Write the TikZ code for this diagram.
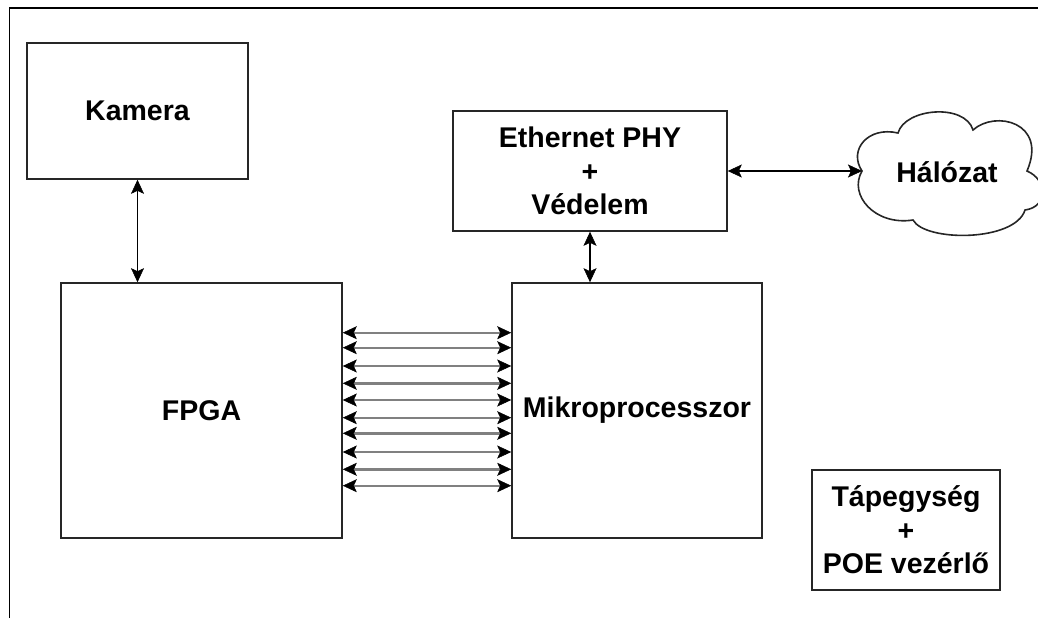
\documentclass[tikz,border=0pt]{standalone}
\usepackage{fontspec}
\setmainfont{Liberation Sans}
\usetikzlibrary{arrows.meta}
\begin{document}
\begin{tikzpicture}[x=1pt,y=-1pt,
  tipA/.tip={Stealth[length=14pt,width=13pt,inset=3pt,color=black,fill=black,line width=0.5pt]},
  box/.style={draw=black!85, line width=1.6pt, rectangle, inner sep=0pt, align=center,
    font=\fontsize{28.5}{33.5}\selectfont\bfseries},
  lbl/.style={inner sep=0pt, align=center, font=\fontsize{28.5}{33.5}\selectfont\bfseries},
  link/.style={line width=1.6pt, draw=black, arrows={tipA-tipA}},
  bus/.style={line width=2.4pt, draw=black!50, arrows={tipA-tipA}},
  frameline/.style={line width=1.6pt, draw=black}]
\useasboundingbox (0,0) rectangle (1038,618);
\draw[frameline] (9.5,618) -- (9.5,8) -- (1038,8);
\node[box, minimum width=221pt, minimum height=136pt] (kam) at (137.5,111) {Kamera};
\node[box, minimum width=281pt, minimum height=255pt] (fpga) at (201.5,410.5) {FPGA};
\node[box, minimum width=250pt, minimum height=255pt] (mik) at (637,410.5) {Mikroprocesszor};
\node[box, minimum width=274pt, minimum height=120pt] (phy) at (590,171) {Ethernet PHY\\+\\Védelem};
\node[box, minimum width=188pt, minimum height=120pt] (tap) at (906,530) {Tápegység\\+\\POE vezérlő};
% cloud
\draw[line width=1.6pt, draw=black!85] (862,171) .. controls (848,150) and (868,126) .. (898,133)
  .. controls (905,108) and (965,103) .. (973,130)
  .. controls (995,110) and (1048,122) .. (1027,171)
  .. controls (1048,180) and (1048,207) .. (1025,210)
  .. controls (1015,242) and (925,242) .. (913,220)
  .. controls (875,226) and (848,195) .. (862,171) -- cycle;
\coordinate (cloudL) at (862,171);
\node[lbl] (net) at (947,172) {Hálózat};
% connectors
\draw[link] (kam.south) -- (kam.south |- fpga.north);
\draw[link] (phy.south) -- (phy.south |- mik.north);
\draw[link] (phy.east) -- (cloudL);
\foreach \yy in {332.7,347.7,366,383.3,400,417.7,433.3,452,469.3,485.7}
  \draw[bus] (fpga.east |- 0,\yy) -- (mik.west |- 0,\yy);
\end{tikzpicture}
\end{document}
